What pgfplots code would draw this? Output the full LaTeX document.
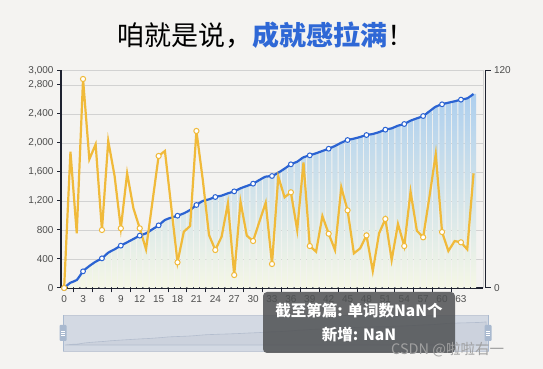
\documentclass[border=0pt]{standalone}
\usepackage{pgfplots}
\pgfplotsset{compat=1.18}
\usepackage{pgfplotstable}
\usepackage{fontspec}
\setmainfont{Liberation Sans}
\newfontfamily\cjk{Noto Sans CJK SC}
\definecolor{bg}{HTML}{F4F3F1}
\definecolor{titleblue}{HTML}{2F68D6}
\definecolor{axisdark}{HTML}{1E2230}
\definecolor{gridgray}{HTML}{D2D2D2}
\definecolor{labelgray}{HTML}{4D4D4D}
\definecolor{barTop}{HTML}{AECFEE}
\definecolor{barBot}{HTML}{F5F7E6}
\definecolor{yellowc}{HTML}{F0BA3A}
\definecolor{bluec}{HTML}{2B63D2}
\definecolor{sliderFill}{HTML}{D3D9E3}
\definecolor{sliderBorder}{HTML}{C2C9D6}
\definecolor{shadowLine}{HTML}{B3BDCE}
\definecolor{shadowFill}{HTML}{CCD2DD}
\definecolor{handle}{HTML}{A9B9CF}
\definecolor{tipgray}{HTML}{505254}
\definecolor{wm}{HTML}{A0A0A0}
\pgfplotstableread{
i t n
0 0 0
1 73 1880
2 110 754
3 230 2883
4 303 1775
5 363 1982
6 409 800
7 487 2028
8 533 1550
9 584 823
10 630 1582
11 676 1099
12 722 823
13 754 533
14 809 1177
15 864 1821
16 938 1890
17 970 1122
18 997 354
19 1030 777
20 1076 855
21 1145 2166
22 1200 1500
23 1223 731
24 1255 524
25 1274 708
26 1306 1168
27 1333 179
28 1375 1191
29 1407 722
30 1439 648
31 1490 915
32 1536 1177
33 1545 331
34 1591 1536
35 1646 1251
36 1706 1320
37 1742 800
38 1803 1733
39 1830 579
40 1858 501
41 1890 993
42 1921 749
43 1959 524
44 2004 1389
45 2041 1071
46 2060 478
47 2083 547
48 2110 726
49 2124 234
50 2150 754
51 2184 952
52 2202 386
53 2239 883
54 2262 579
55 2308 1329
56 2340 791
57 2372 699
58 2437 1260
59 2501 1848
60 2534 772
61 2556 510
62 2575 648
63 2598 630
64 2616 533
65 2676 1582
}\data
\begin{document}
\begin{tikzpicture}
\fill[bg] (0pt,0pt) rectangle (543pt,369pt);
\path[use as bounding box] (0pt,0pt) rectangle (543pt,369pt);
% title
\node[inner sep=0pt] at (266pt,334pt) {\fontsize{27}{30}\selectfont\cjk 咱就是说，{\bfseries\color{titleblue}成就感拉满}！};
% main axis
\begin{axis}[
  at={(61pt,81pt)}, anchor=south west, scale only axis,
  width=422pt, height=217.5pt,
  xmin=-0.5, xmax=66.5, ymin=0, ymax=3000,
  axis x line*=bottom, axis y line*=left,
  x axis line style={-, line width=1.5pt, draw=axisdark},
  y axis line style={-, line width=1.5pt, draw=axisdark},
  xtick={0,3,...,63},
  minor x tick num=1,
  ytick={0,400,800,1200,1600,2000,2400,2800,3000},
  tick align=outside,
  major tick length=4pt, minor tick length=4.5pt,
  major x tick style={draw=none},
  minor x tick style={draw=axisdark, line width=1pt},
  ytick style={draw=axisdark, line width=1pt},
  ymajorgrids, grid style={draw=gridgray, line width=0.8pt},
  /pgf/number format/assume math mode=true,
  /pgf/number format/1000 sep={,},
  scaled y ticks=false,
  xticklabel style={font=\fontsize{10}{12}\selectfont, text=labelgray},
  yticklabel style={font=\fontsize{10}{12}\selectfont, text=labelgray},
  clip=false,
]
\draw[gridgray, line width=0.8pt] (axis cs:66.5,0) -- (axis cs:66.5,3000);
\addplot[ybar, bar width=0.84, bar shift=0pt, draw=none, top color=barTop, bottom color=barBot, mark=none] table[x=i,y=t]{\data};
\addplot[bluec, line width=2.2pt, smooth, tension=0.4, mark=*, mark repeat=3, mark size=2.4pt, mark options={fill=white, draw=bluec, line width=1pt, solid}] table[x=i,y=t]{\data};
\addplot[yellowc, line width=2.2pt, mark=*, mark repeat=3, mark size=2.6pt, mark options={fill=white, draw=yellowc, line width=1pt, solid}] table[x=i,y=n]{\data};
\end{axis}
% right axis
\begin{axis}[
  at={(63.5pt,81pt)}, anchor=south west, scale only axis,
  width=422pt, height=217.5pt,
  xmin=0, xmax=1, ymin=0, ymax=120,
  axis y line*=right, axis x line=none,
  y axis line style={-, line width=1.5pt, draw=axisdark},
  ytick={0,120}, tick align=outside, major tick length=5pt,
  ytick style={draw=axisdark, line width=1pt},
  /pgf/number format/assume math mode=true,
  yticklabel style={font=\fontsize{10}{12}\selectfont, text=labelgray},
]
\addplot[draw=none] coordinates {(0,0)};
\end{axis}
% data zoom slider
\fill[sliderFill, draw=sliderBorder, line width=0.6pt] (63pt,18pt) rectangle (488pt,54pt);
\begin{axis}[
  at={(63pt,18pt)}, anchor=south west, scale only axis,
  width=425pt, height=36pt,
  xmin=-0.3, xmax=65.3, ymin=-700, ymax=3480,
  hide axis,
]
\addplot[draw=shadowLine, line width=0.6pt, fill=shadowFill, mark=none] table[x=i,y=t]{\data} \closedcycle;
\end{axis}
\draw[handle, line width=1pt] (63pt,18pt) -- (63pt,54pt);
\draw[handle, line width=1pt] (488pt,18pt) -- (488pt,54pt);
\fill[handle, rounded corners=1pt] (59.5pt,28pt) rectangle (66.5pt,44pt);
\fill[handle, rounded corners=1pt] (484.5pt,28pt) rectangle (491.5pt,44pt);
\foreach \yy in {34,36,38}{
  \draw[white, line width=0.5pt] (61pt,\yy pt) -- (65pt,\yy pt);
  \draw[white, line width=0.5pt] (486pt,\yy pt) -- (490pt,\yy pt);
}
% tooltip
\fill[tipgray, opacity=0.86, rounded corners=4pt] (263pt,16pt) rectangle (455pt,77pt);
\node[text=white, inner sep=0pt] at (359pt,58pt) {\fontsize{15.5}{18}\selectfont\cjk\bfseries 截至第篇: 单词数NaN个};
\node[text=white, inner sep=0pt] at (359pt,34pt) {\fontsize{15.5}{18}\selectfont\cjk\bfseries 新增: NaN};
% watermark
\node[text=wm, inner sep=0pt, anchor=west] at (391pt,19pt) {\fontsize{14.5}{17}\selectfont\cjk CSDN @啦啦右一};
\end{tikzpicture}
\end{document}
